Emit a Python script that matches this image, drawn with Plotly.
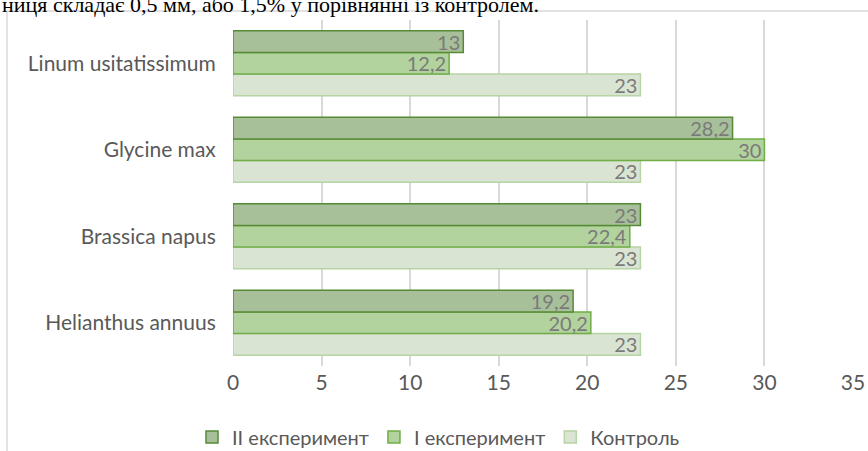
import plotly.graph_objects as go

# Data (bottom-to-top category order on the y axis)
categories = ["Helianthus annuus", "Brassica napus", "Glycine max", "Linum usitatissimum"]
control = [23, 23, 23, 23]
exp_1 = [20.2, 22.4, 30, 12.2]
exp_2 = [19.2, 23, 28.2, 13]

series_names = ["Контроль", "I експеримент", "II експеримент"]
x_ticks = [0, 5, 10, 15, 20, 25, 30, 35]

heading = "ниця складає 0,5 мм, або 1,5% у порівнянні із контролем."

def fmt(v):
    s = f"{v:g}"
    return s.replace(".", ",")

fills = ["#d9e5d2", "#b2d29e", "#a7c099"]
borders = ["#b6d4a4", "#70ad47", "#578a36"]

W, H = 868, 451
L, R, T, B = 233, 15, 20, 85
pw, ph = W - L - R, H - T - B

def px_x(p):
    return (p - L) / pw

def px_y(p):
    return (H - B - p) / ph

fig = go.Figure()
for name, vals, fc, bc in zip(series_names, [control, exp_1, exp_2], fills, borders):
    fig.add_trace(go.Bar(
        y=categories, x=vals, name=name, orientation="h",
        marker=dict(color=fc, line=dict(color=bc, width=1.5)),
        text=[fmt(v) for v in vals], textposition="inside",
        insidetextanchor="end", textangle=0,
        textfont=dict(family="Lato", size=20, color="#7a7a7a"),
        hoverinfo="skip",
    ))

fig.update_layout(
    width=W, height=H,
    margin=dict(l=L, r=R, t=T, b=B, autoexpand=False),
    paper_bgcolor="white", plot_bgcolor="white",
    barmode="group", bargap=0.25, bargroupgap=0,
    uniformtext=dict(mode="show", minsize=20),
    font=dict(family="Lato", color="#595959"),
    xaxis=dict(
        range=[0, 35], tickvals=x_ticks, showgrid=True,
        gridcolor="#d9d9d9", gridwidth=1.5, zeroline=False,
        showline=False, tickfont=dict(size=21, color="#595959"),
        ticks="", ticklabelstandoff=2,
        fixedrange=True, automargin=False,
    ),
    yaxis=dict(
        categoryorder="array", categoryarray=categories,
        showgrid=False, showline=False, zeroline=False,
        tickfont=dict(size=21, color="#595959"),
        ticks="outside", ticklen=0, ticklabelstandoff=12,
        fixedrange=True, automargin=False,
    ),
    legend=dict(
        orientation="h", traceorder="reversed",
        xref="container", yref="container",
        x=192 / W, xanchor="left", y=(H - 437) / H, yanchor="middle",
        font=dict(size=20, color="#595959"),
        itemwidth=30,
    ),
    showlegend=True,
    shapes=[dict(
        type="rect", xref="paper", yref="paper",
        x0=px_x(7), x1=px_x(880), y0=px_y(470), y1=px_y(11),
        line=dict(color="#d9d9d9", width=1.5), fillcolor="rgba(0,0,0,0)",
        layer="below",
    )],
    annotations=[dict(
        text=heading, xref="paper", yref="paper",
        x=px_x(0), xanchor="left", y=px_y(5), yanchor="middle",
        showarrow=False,
        font=dict(family="Liberation Serif", size=22, color="#000000"),
    )],
)

fig.write_html("out.html")
